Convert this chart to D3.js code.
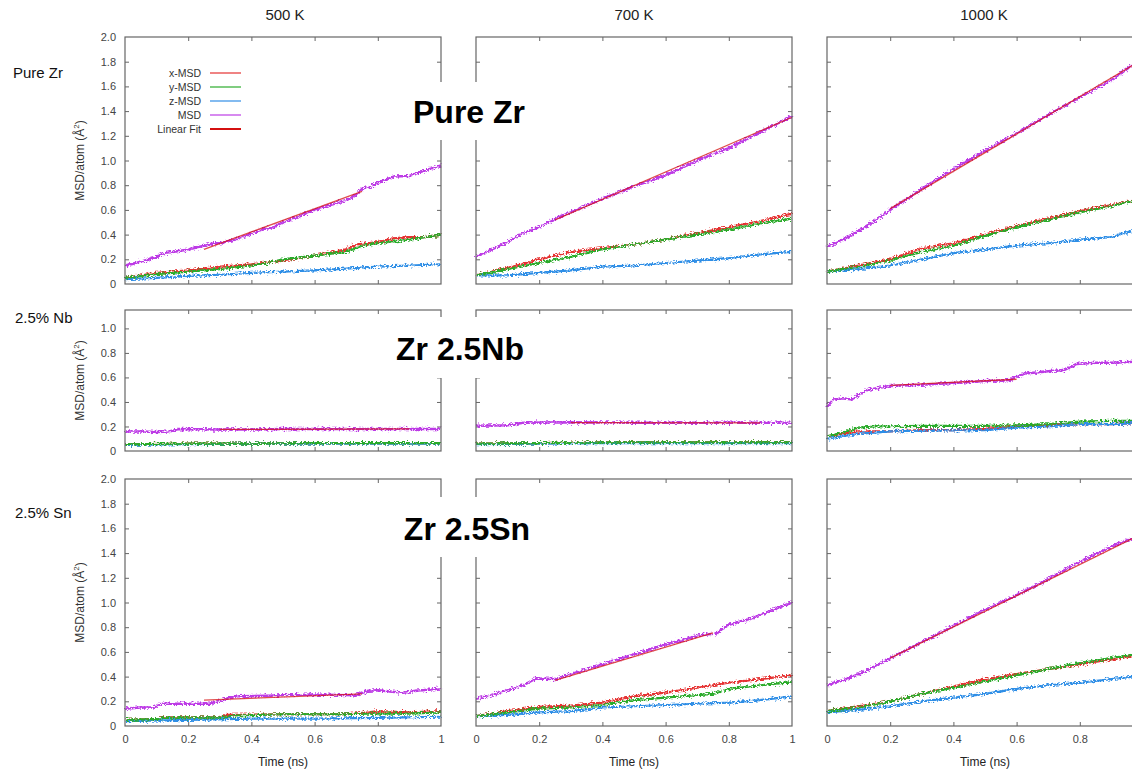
<!DOCTYPE html>
<html>
<head>
<meta charset="utf-8">
<script src="https://cdn.jsdelivr.net/npm/d3@7"></script>
<style>
body { margin: 0; background: #fff; }
text { font-family: Arial, "Liberation Sans", sans-serif; }
</style>
</head>
<body>
<svg id="chart"></svg>
<script>
const W = 1132, H = 769;

// column / row headings
var temps = ["500 K", "700 K", "1000 K"];
var alloys = ["Pure Zr", "2.5% Nb", "2.5% Sn"];
var bigLabels = ["Pure Zr", "Zr 2.5Nb", "Zr 2.5Sn"];
var seriesNames = ["x-MSD", "y-MSD", "z-MSD", "MSD", "Linear Fit"];
var xTicks = [0, 0.2, 0.4, 0.6, 0.8, 1];
var yTicksFull = [0, 0.2, 0.4, 0.6, 0.8, 1.0, 1.2, 1.4, 1.6, 1.8, 2.0];
var yTicksNb = [0, 0.2, 0.4, 0.6, 0.8, 1.0];

// ---- Pure Zr ----
var zr500_x = [[0,0.05],[0.1,0.09],[0.2,0.11],[0.3,0.14],[0.4,0.16],[0.5,0.19],[0.6,0.23],[0.7,0.28],[0.73,0.32],[0.8,0.34],[0.85,0.37],[0.9,0.38],[0.95,0.38],[1,0.40]];
var zr500_y = [[0,0.05],[0.1,0.08],[0.2,0.10],[0.3,0.12],[0.4,0.15],[0.45,0.17],[0.5,0.20],[0.6,0.23],[0.7,0.26],[0.72,0.28],[0.75,0.31],[0.8,0.33],[0.9,0.36],[1,0.40]];
var zr500_z = [[0,0.04],[0.1,0.05],[0.2,0.065],[0.3,0.075],[0.4,0.09],[0.5,0.10],[0.6,0.11],[0.7,0.125],[0.8,0.14],[0.9,0.15],[1,0.16]];
var zr500_msd = [[0,0.15],[0.05,0.18],[0.1,0.22],[0.12,0.25],[0.15,0.26],[0.2,0.28],[0.25,0.31],[0.28,0.33],[0.3,0.33],[0.35,0.36],[0.4,0.41],[0.45,0.45],[0.47,0.46],[0.5,0.50],[0.55,0.55],[0.6,0.60],[0.65,0.64],[0.7,0.68],[0.72,0.70],[0.75,0.77],[0.78,0.79],[0.8,0.82],[0.85,0.87],[0.9,0.875],[0.95,0.92],[1,0.96]];
var zr500_fit = [[0.25,0.28],[0.75,0.75]];

var zr700_x = [[0,0.07],[0.1,0.13],[0.2,0.20],[0.3,0.26],[0.4,0.29],[0.5,0.32],[0.6,0.36],[0.7,0.41],[0.8,0.46],[0.9,0.51],[1,0.57]];
var zr700_y = [[0,0.07],[0.1,0.12],[0.2,0.17],[0.3,0.22],[0.4,0.28],[0.5,0.32],[0.6,0.36],[0.7,0.40],[0.8,0.44],[0.9,0.49],[1,0.53]];
var zr700_z = [[0,0.07],[0.1,0.07],[0.2,0.09],[0.3,0.11],[0.4,0.14],[0.5,0.15],[0.6,0.17],[0.7,0.19],[0.8,0.21],[0.9,0.24],[1,0.26]];
var zr700_msd = [[0,0.22],[0.1,0.34],[0.14,0.40],[0.2,0.46],[0.26,0.54],[0.3,0.58],[0.4,0.69],[0.5,0.79],[0.6,0.88],[0.7,1.00],[0.8,1.10],[0.9,1.23],[1,1.36]];
var zr700_fit = [[0.25,0.52],[1,1.35]];

var zr1000_x = [[0,0.10],[0.1,0.15],[0.2,0.20],[0.3,0.29],[0.4,0.33],[0.5,0.40],[0.6,0.47],[0.7,0.53],[0.8,0.59],[0.9,0.64],[1,0.69]];
var zr1000_y = [[0,0.10],[0.1,0.14],[0.2,0.19],[0.3,0.26],[0.4,0.31],[0.5,0.39],[0.6,0.46],[0.7,0.52],[0.8,0.58],[0.9,0.63],[1,0.69]];
var zr1000_z = [[0,0.10],[0.1,0.12],[0.2,0.15],[0.3,0.20],[0.4,0.25],[0.5,0.28],[0.6,0.31],[0.7,0.33],[0.8,0.36],[0.9,0.38],[0.95,0.42],[1,0.45]];
var zr1000_msd = [[0,0.30],[0.05,0.36],[0.1,0.43],[0.15,0.51],[0.2,0.60],[0.3,0.77],[0.4,0.93],[0.5,1.08],[0.6,1.22],[0.7,1.37],[0.8,1.51],[0.9,1.65],[0.97,1.78],[1,1.83]];
var zr1000_fit = [[0.2,0.61],[1,1.82]];

// ---- Zr 2.5Nb ----
var nb500_x = [[0,0.055],[0.2,0.06],[0.4,0.06],[0.6,0.065],[0.8,0.065],[1,0.065]];
var nb500_y = [[0,0.055],[0.2,0.06],[0.4,0.06],[0.6,0.065],[0.8,0.065],[1,0.065]];
var nb500_z = [[0,0.05],[0.2,0.055],[0.4,0.06],[0.6,0.06],[0.8,0.06],[1,0.06]];
var nb500_msd = [[0,0.16],[0.05,0.16],[0.1,0.155],[0.14,0.16],[0.17,0.18],[0.3,0.175],[0.4,0.175],[0.5,0.18],[0.6,0.18],[0.7,0.18],[0.8,0.18],[0.9,0.18],[1,0.18]];
var nb500_fit = [[0.3,0.176],[0.9,0.18]];

var nb700_x = [[0,0.06],[0.2,0.065],[0.4,0.07],[0.6,0.07],[0.8,0.07],[1,0.07]];
var nb700_y = [[0,0.06],[0.2,0.065],[0.4,0.07],[0.6,0.07],[0.8,0.07],[1,0.07]];
var nb700_z = [[0,0.055],[0.2,0.06],[0.4,0.065],[0.6,0.065],[0.8,0.065],[1,0.065]];
var nb700_msd = [[0,0.205],[0.1,0.21],[0.15,0.23],[0.3,0.235],[0.5,0.23],[0.7,0.23],[0.9,0.23],[1,0.23]];
var nb700_fit = [[0.3,0.232],[0.9,0.23]];

var nb1000_x = [[0,0.12],[0.1,0.16],[0.2,0.16],[0.3,0.17],[0.4,0.17],[0.5,0.18],[0.6,0.20],[0.7,0.21],[0.8,0.22],[0.9,0.22],[1,0.23]];
var nb1000_y = [[0,0.12],[0.05,0.15],[0.1,0.19],[0.15,0.20],[0.3,0.205],[0.5,0.205],[0.6,0.21],[0.7,0.22],[0.8,0.24],[0.9,0.245],[1,0.245]];
var nb1000_z = [[0,0.10],[0.1,0.14],[0.2,0.16],[0.3,0.165],[0.5,0.17],[0.6,0.19],[0.7,0.20],[0.8,0.22],[0.9,0.22],[1,0.23]];
var nb1000_msd = [[0,0.36],[0.02,0.42],[0.05,0.43],[0.08,0.42],[0.1,0.46],[0.13,0.50],[0.2,0.53],[0.3,0.54],[0.4,0.555],[0.5,0.57],[0.58,0.58],[0.62,0.63],[0.7,0.65],[0.75,0.66],[0.79,0.71],[0.85,0.72],[0.9,0.72],[1,0.73]];
var nb1000_fit = [[0.2,0.535],[0.6,0.585]];

// ---- Zr 2.5Sn ----
var sn500_x = [[0,0.05],[0.1,0.055],[0.12,0.07],[0.3,0.07],[0.32,0.09],[0.5,0.095],[0.7,0.095],[0.77,0.11],[0.8,0.12],[0.9,0.11],[1,0.12]];
var sn500_y = [[0,0.05],[0.1,0.055],[0.12,0.065],[0.3,0.07],[0.35,0.085],[0.5,0.095],[0.7,0.095],[0.77,0.10],[0.9,0.10],[1,0.11]];
var sn500_z = [[0,0.04],[0.2,0.05],[0.4,0.06],[0.6,0.06],[0.8,0.065],[1,0.075]];
var sn500_msd = [[0,0.14],[0.05,0.15],[0.09,0.15],[0.12,0.18],[0.2,0.18],[0.27,0.18],[0.32,0.22],[0.36,0.24],[0.45,0.245],[0.5,0.25],[0.6,0.255],[0.7,0.25],[0.73,0.25],[0.77,0.285],[0.8,0.29],[0.84,0.28],[0.88,0.27],[0.92,0.285],[0.97,0.295],[1,0.305]];
var sn500_fit = [[0.25,0.21],[0.75,0.26]];

var sn700_x = [[0,0.08],[0.1,0.12],[0.2,0.155],[0.3,0.165],[0.4,0.19],[0.5,0.24],[0.6,0.27],[0.7,0.31],[0.8,0.35],[0.9,0.38],[1,0.41]];
var sn700_y = [[0,0.08],[0.1,0.11],[0.2,0.14],[0.3,0.15],[0.4,0.17],[0.5,0.21],[0.6,0.23],[0.7,0.25],[0.75,0.26],[0.8,0.30],[0.9,0.33],[1,0.355]];
var sn700_z = [[0,0.08],[0.1,0.09],[0.2,0.11],[0.3,0.12],[0.4,0.15],[0.5,0.16],[0.6,0.17],[0.7,0.18],[0.8,0.19],[0.9,0.21],[1,0.24]];
var sn700_msd = [[0,0.22],[0.05,0.25],[0.1,0.29],[0.15,0.33],[0.19,0.385],[0.25,0.38],[0.3,0.42],[0.4,0.50],[0.5,0.58],[0.6,0.66],[0.7,0.73],[0.76,0.75],[0.8,0.82],[0.87,0.87],[0.95,0.95],[1,1.0]];
var sn700_fit = [[0.25,0.37],[0.75,0.755]];

var sn1000_x = [[0,0.12],[0.1,0.16],[0.2,0.20],[0.3,0.26],[0.4,0.32],[0.5,0.38],[0.6,0.42],[0.7,0.46],[0.8,0.50],[0.9,0.54],[1,0.58]];
var sn1000_y = [[0,0.12],[0.1,0.15],[0.2,0.20],[0.3,0.26],[0.4,0.31],[0.5,0.36],[0.6,0.41],[0.7,0.46],[0.8,0.51],[0.9,0.55],[1,0.59]];
var sn1000_z = [[0,0.11],[0.1,0.13],[0.2,0.16],[0.3,0.20],[0.4,0.23],[0.5,0.26],[0.6,0.30],[0.7,0.33],[0.8,0.35],[0.9,0.38],[1,0.41]];
var sn1000_msd = [[0,0.33],[0.05,0.37],[0.1,0.42],[0.15,0.48],[0.2,0.55],[0.3,0.68],[0.4,0.81],[0.5,0.94],[0.6,1.06],[0.7,1.19],[0.8,1.33],[0.9,1.45],[1,1.56]];
var sn1000_fit = [[0.2,0.55],[1,1.56]];

var panels = [
  [ {x:zr500_x, y:zr500_y, z:zr500_z, msd:zr500_msd, fit:zr500_fit},
    {x:zr700_x, y:zr700_y, z:zr700_z, msd:zr700_msd, fit:zr700_fit},
    {x:zr1000_x, y:zr1000_y, z:zr1000_z, msd:zr1000_msd, fit:zr1000_fit} ],
  [ {x:nb500_x, y:nb500_y, z:nb500_z, msd:nb500_msd, fit:nb500_fit},
    {x:nb700_x, y:nb700_y, z:nb700_z, msd:nb700_msd, fit:nb700_fit},
    {x:nb1000_x, y:nb1000_y, z:nb1000_z, msd:nb1000_msd, fit:nb1000_fit} ],
  [ {x:sn500_x, y:sn500_y, z:sn500_z, msd:sn500_msd, fit:sn500_fit},
    {x:sn700_x, y:sn700_y, z:sn700_z, msd:sn700_msd, fit:sn700_fit},
    {x:sn1000_x, y:sn1000_y, z:sn1000_z, msd:sn1000_msd, fit:sn1000_fit} ]
];

// layout
var colLeft = [125, 476, 827];
var panelW = 316;
var rowTop = [37, 310, 479];
var rowBottom = [284, 451, 726];
var yMax = [2.0, 1.15, 2.0];

var colors = { x: "#e53030", y: "#2bab2b", z: "#2f8ee6", msd: "#bd3be6", fit: "#d41010" };

var svg = d3.select("#chart").attr("width", W).attr("height", H);

// jitter look of the raw MD traces (fractal noise is centred, so no net shift)
var defs = svg.append("defs");
var filt = defs.append("filter")
  .attr("id", "jit")
  .attr("filterUnits", "userSpaceOnUse")
  .attr("x", 0).attr("y", 0).attr("width", W).attr("height", H);
filt.append("feTurbulence")
  .attr("type", "fractalNoise")
  .attr("baseFrequency", "0.45 0.8")
  .attr("numOctaves", 2)
  .attr("seed", 7)
  .attr("result", "noise");
filt.append("feDisplacementMap")
  .attr("in", "SourceGraphic")
  .attr("in2", "noise")
  .attr("scale", 6)
  .attr("xChannelSelector", "R")
  .attr("yChannelSelector", "G");

var fmtY = d => d === 0 ? "0" : d3.format(".1f")(d);
var fmtX = d => (d === 0 || d === 1) ? String(d) : d3.format(".1f")(d);

for (var r = 0; r < 3; r++) {
  for (var c = 0; c < 3; c++) {
    drawPanel(r, c, panels[r][c]);
  }
}

function drawPanel(r, c, p) {
  var x = d3.scaleLinear().domain([0, 1]).range([colLeft[c], colLeft[c] + panelW]);
  var y = d3.scaleLinear().domain([0, yMax[r]]).range([rowBottom[r], rowTop[r]]);
  var yt = r == 1 ? yTicksNb : yTicksFull;
  var g = svg.append("g");

  // inward ticks on all four sides
  var inner = [0.2, 0.4, 0.6, 0.8];
  var innerY = yt.filter(v => v > 0 && v < yMax[r]);
  g.append("g").attr("transform", "translate(0," + rowTop[r] + ")")
    .call(d3.axisTop(x).tickValues(inner).tickSize(-4).tickFormat(""));
  g.append("g").attr("transform", "translate(0," + rowBottom[r] + ")")
    .call(d3.axisBottom(x).tickValues(inner).tickSize(-4).tickFormat(""));
  g.append("g").attr("transform", "translate(" + (colLeft[c] + panelW) + ",0)")
    .call(d3.axisRight(y).tickValues(innerY).tickSize(-4).tickFormat(""));
  g.append("g").attr("transform", "translate(" + colLeft[c] + ",0)")
    .call(d3.axisLeft(y).tickValues(innerY).tickSize(-4).tickFormat(""));
  g.selectAll(".domain").remove();
  g.selectAll(".tick line").attr("stroke", "#666");

  if (c == 0) {
    var ya = g.append("g").attr("transform", "translate(" + colLeft[c] + ",0)")
      .call(d3.axisLeft(y).tickValues(yt).tickSize(0).tickPadding(9).tickFormat(fmtY));
    ya.select(".domain").remove();
    ya.selectAll("text").attr("fill", "#444").style("font-size", "11px")
      .style("font-family", "Arial, 'Liberation Sans', sans-serif");

    var cy = (rowTop[r] + rowBottom[r]) / 2;
    var lab = g.append("text")
      .attr("transform", "translate(84," + cy + ") rotate(-90)")
      .attr("text-anchor", "middle")
      .attr("fill", "#333")
      .style("font-size", "12px");
    lab.append("tspan").text("MSD/atom (Å");
    lab.append("tspan").attr("dy", -5).style("font-size", "8px").text("2");
    lab.append("tspan").attr("dy", 5).text(")");
  }

  if (r == 2) {
    // the last column runs past the picture edge, so its "1" is not shown
    var vis = xTicks.filter(v => x(v) < W - 4);
    var xa = g.append("g").attr("transform", "translate(0," + rowBottom[r] + ")")
      .call(d3.axisBottom(x).tickValues(vis).tickSize(0).tickPadding(9).tickFormat(fmtX));
    xa.select(".domain").remove();
    xa.selectAll("text").attr("fill", "#444").style("font-size", "11px")
      .style("font-family", "Arial, 'Liberation Sans', sans-serif");
    g.append("text")
      .attr("x", colLeft[c] + panelW / 2).attr("y", 766)
      .attr("text-anchor", "middle").attr("fill", "#222")
      .style("font-size", "12px")
      .text("Time (ns)");
  }

  // curves
  var line = d3.line().x(d => x(d[0])).y(d => y(d[1]));
  var lines = g.append("g").attr("filter", "url(#jit)");
  ["x", "z", "y", "msd"].forEach(function(k) {
    lines.append("path")
      .attr("d", line(p[k]))
      .attr("fill", "none")
      .attr("stroke", colors[k])
      .attr("stroke-width", k == "msd" ? 2.5 : 2.2)
      .attr("stroke-linejoin", "round");
  });
  g.append("path")
    .attr("d", line(p.fit))
    .attr("fill", "none")
    .attr("stroke", colors.fit)
    .attr("stroke-width", 1.3)
    .attr("stroke-opacity", 0.75);

  // frame
  g.append("rect")
    .attr("x", colLeft[c]).attr("y", rowTop[r])
    .attr("width", panelW).attr("height", rowBottom[r] - rowTop[r])
    .attr("fill", "none").attr("stroke", "#666").attr("stroke-width", 1.2);
}

// legend in first panel
var leg = svg.append("g");
var legY = [73, 87, 101, 115, 129];
var legKeys = ["x", "y", "z", "msd", "fit"];
seriesNames.forEach(function(n, i) {
  leg.append("text")
    .attr("x", 201).attr("y", legY[i] + 3.5)
    .attr("text-anchor", "end").attr("fill", "#333")
    .style("font-size", "10.5px")
    .text(n);
  leg.append("line")
    .attr("x1", 210).attr("x2", 241)
    .attr("y1", legY[i]).attr("y2", legY[i])
    .attr("stroke", colors[legKeys[i]])
    .attr("stroke-width", i == 4 ? 2 : 1.2);
});

// column headings
var colCenter = [285, 634, 984];
temps.forEach(function(t, i) {
  svg.append("text")
    .attr("x", colCenter[i]).attr("y", 20)
    .attr("text-anchor", "middle").attr("fill", "#222")
    .style("font-size", "15px")
    .text(t);
});

// row headings
var rowLabY = [78, 323, 518];
alloys.forEach(function(a, i) {
  svg.append("text")
    .attr("x", i == 0 ? 13 : 15).attr("y", rowLabY[i])
    .attr("fill", "#111")
    .style("font-size", "15px")
    .text(a);
});

// big bold labels on white boxes
var bigBox = [[405, 82, 128, 58], [390, 317, 140, 61], [398, 497, 138, 60]];
var bigX = [469, 460, 467];
var bigBase = [123, 360, 540];
bigLabels.forEach(function(b, i) {
  svg.append("rect")
    .attr("x", bigBox[i][0]).attr("y", bigBox[i][1])
    .attr("width", bigBox[i][2]).attr("height", bigBox[i][3])
    .attr("fill", "#fff");
  svg.append("text")
    .attr("x", bigX[i]).attr("y", bigBase[i])
    .attr("text-anchor", "middle").attr("fill", "#000")
    .style("font-size", "32px").style("font-weight", "bold")
    .text(b);
});
</script>
</body>
</html>
